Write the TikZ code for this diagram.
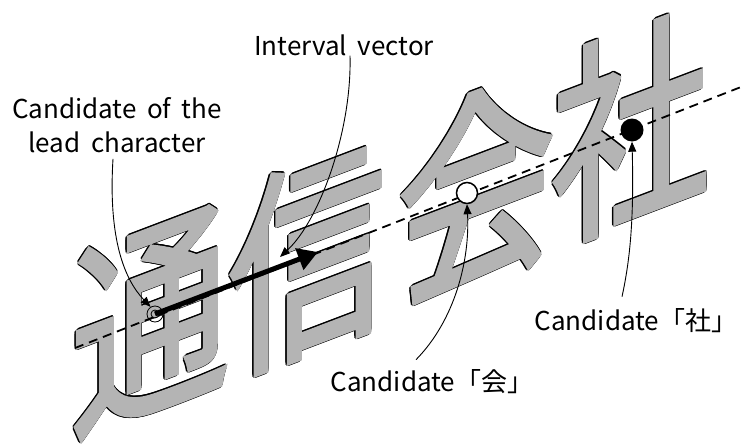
\documentclass[tikz,border=0pt]{standalone}
\usepackage{fontspec}
\setmainfont[WordSpace=1.8]{Noto Sans CJK JP}
\newfontfamily\bigcjk{Noto Sans CJK JP}
\usetikzlibrary{arrows.meta}
\definecolor{charfill}{RGB}{180,180,180}
\newcommand{\glyphplain}[1]{\bigcjk\fontsize{212}{212}\selectfont\color{black}#1}
\newcommand{\glyphbody}[1]{\bigcjk\fontsize{212}{212}\selectfont\color{charfill}%
\special{pdf:literal direct 2 Tr 0.706 G 0 j 4.8 w}#1\special{pdf:literal direct 0 Tr}}
\newcommand{\charedge}[3]{%
  \foreach \a [count=\k] in {0,22.5,...,337.5}{%
    \begin{scope}[slanted={#2}]\begin{scope}[shift={(\a:3.5)}]%
      \node[glyph] (#1edge\k) at (0,0) {\glyphplain{#3}};%
    \end{scope}\end{scope}}}
\newcommand{\charbody}[3]{%
  \begin{scope}[slanted={#2}]\node[glyph] (#1) at (0,0) {\glyphbody{#3}};\end{scope}}
\begin{document}
\begin{tikzpicture}[x=1pt,y=-1pt,
  lbl/.style={font=\fontsize{26}{34}\selectfont, inner sep=0pt, align=center},
  pointer/.style={-{Triangle[length=10pt,width=8pt]}, line width=0.9pt},
  guide/.style={dash pattern=on 9pt off 6pt, line width=1.8pt},
  vec/.style={-{Triangle[length=20pt,width=22pt]}, line width=5pt},
  glyph/.style={transform shape, anchor=base west, inner sep=0pt},
  slanted/.style={cm={0.745,0.283,0,1,#1}}]
\useasboundingbox (0,0) rectangle (741,447);
% outline layer
\charedge{c1}{(71,429)}{通}
\charedge{c2}{(228,369)}{信}
\charedge{c3}{(397,300)}{会}
\charedge{c4}{(551,237)}{社}
% fill layer
\charbody{c1}{(71,429)}{通}
\charbody{c2}{(228,369)}{信}
\charbody{c3}{(397,300)}{会}
\charbody{c4}{(551,237)}{社}
\coordinate (dl1) at (75,348);
\coordinate (dl2) at (741,87);
\draw[guide] (dl1) -- (dl2);
\node[circle, draw, line width=0.8pt, minimum size=16pt, inner sep=0pt] (lead) at (155,314) {};
\node[circle, draw, line width=0.8pt, minimum size=8pt, inner sep=0pt] (leadin) at (155,314) {};
\coordinate (vtip) at (318,252);
\draw[vec] (lead.center) -- (vtip);
\node[circle, draw, fill=white, line width=1.5pt, minimum size=21pt, inner sep=0pt] (kai) at (467,193) {};
\node[circle, fill=black, minimum size=23pt, inner sep=0pt] (sha) at (632,130) {};
\coordinate (ivtip) at (280,257);
\node[lbl] (ivlbl) at (344,45) {Interval vector};
\node[lbl] (leadlbl) at (117,125) {Candidate of the\\lead character};
\node[lbl] (kailbl) at (432,382) {Candidate「会」};
\node[lbl] (shalbl) at (636,321) {Candidate「社」};
\draw[pointer] (ivlbl.south) ++(6,0) .. controls (352,130) and (320,220) .. (ivtip);
\draw[pointer] (leadlbl.south) ++(-4,6) .. controls (108,240) and (125,280) .. (lead.122);
\draw[pointer] (kailbl.north) ++(-16,-10) .. controls (455,320) and (470,260) .. (kai.south);
\draw[pointer] (shalbl.north) ++(-14,-12) .. controls (630,260) and (634,220) .. (sha.south);
\end{tikzpicture}
\end{document}
